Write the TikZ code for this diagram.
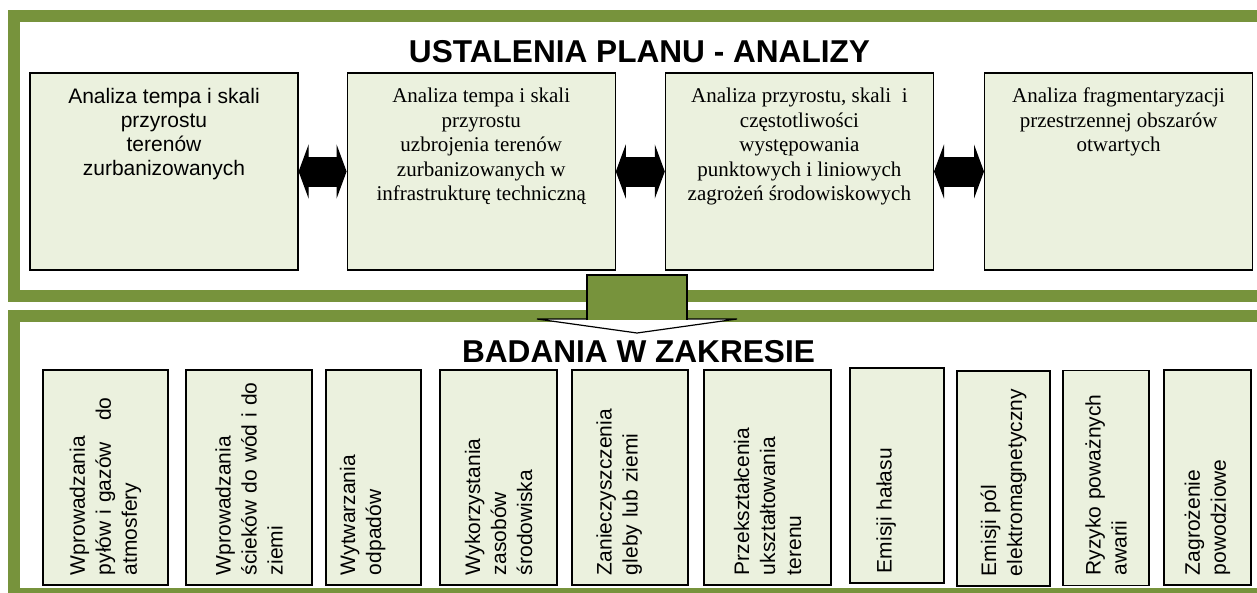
\documentclass[tikz,border=0pt]{standalone}
\usepackage{fontspec}
\setmainfont{Liberation Serif}
\setsansfont{Liberation Sans}
\usetikzlibrary{positioning, arrows.meta}

\definecolor{bandgreen}{HTML}{77933C}
\definecolor{boxgreen}{HTML}{EBF1DE}

\begin{document}
\begin{tikzpicture}[x=1pt, y=-1pt, font=\sffamily]
\tikzstyle{frame}=[%
draw=bandgreen, line width=12pt
]
\tikzstyle{heading}=[%
font=\sffamily\bfseries\fontsize{31.6}{36}\selectfont,
inner sep=0pt
]
\tikzstyle{topbox}=[%
minimum height=197pt,
minimum width=268pt,
inner xsep=6pt, inner ysep=15pt,
draw, line width=1.2pt, fill=boxgreen,
execute at begin node={\begin{minipage}[c][167pt][t]{256pt}\centering},
execute at end node={\end{minipage}}
]
\tikzstyle{lowbox}=[%
rotate=90,
minimum width=215pt,
inner xsep=10pt, inner ysep=4pt,
text width=195pt, align=left,
draw, line width=1.2pt, fill=boxgreen,
font=\sffamily\fontsize{21}{26}\selectfont
]
\tikzstyle{biarrow}=[%
line width=30pt,
{Triangle[length=10pt, width=54pt, line width=1.2pt]}-{Triangle[length=10pt, width=54pt, line width=1.2pt]}
]
\useasboundingbox (0,0) rectangle (1257,592);
\clip (0,0) rectangle (1257,592);

% the two frames
\draw[frame] (14,16) rectangle (1263,296);
\draw[frame] (14,316) rectangle (1263,594);

\node[heading, anchor=base] (plan) at (639.5,62) {USTALENIA PLANU - ANALIZY};
\node[heading, anchor=base] (badania) at (638.5,362) {BADANIA W ZAKRESIE};

% analyses
\node[topbox, font=\sffamily\fontsize{21}{24}\selectfont] (t1) at (164,171.5) {Analiza tempa i skali\\ przyrostu\\ terenów\\ zurbanizowanych};
\node[topbox, font=\rmfamily\fontsize{21}{24.5}\selectfont, right=48pt of t1] (t2) {Analiza tempa i skali\\ przyrostu\\ uzbrojenia terenów\\ zurbanizowanych w\\ infrastrukturę techniczną};
\node[topbox, font=\rmfamily\fontsize{21}{24.5}\selectfont, right=49pt of t2] (t3) {Analiza przyrostu, skali~ i\\ częstotliwości\\ występowania\\ punktowych i liniowych\\ zagrożeń środowiskowych};
\node[topbox, font=\rmfamily\fontsize{21}{24.5}\selectfont, right=50pt of t3] (t4) {Analiza fragmentaryzacji\\ przestrzennej obszarów\\ otwartych};

\draw[biarrow] (t1) -- (t2);
\draw[biarrow] (t2) -- (t3);
\draw[biarrow] (t3) -- (t4);

% big arrow down
\filldraw[fill=white, draw=black, line width=1.2pt] (537,319) -- (637,333) -- (737,319) -- cycle;
\filldraw[fill=bandgreen, draw=black, line width=1.2pt] (587,320) -- (587,275) -- (687,275) -- (687,320);

% studies
\node[lowbox, minimum height=125pt] (b1) at (105.5,477.5) {Wprowadzania\\ pyłów i gazów~~ do\\ atmosfery};
\node[lowbox, minimum height=126pt] (b2) at (249,477.5) {Wprowadzania\\ ścieków do wód i do\\ ziemi};
\node[lowbox, minimum height=95pt] (b3) at (373.5,477.5) {Wytwarzania\\ odpadów\\ \mbox{}};
\node[lowbox, minimum height=117pt] (b4) at (498.5,477.5) {Wykorzystania\\ zasobów\\ środowiska};
\node[lowbox, minimum height=116pt] (b5) at (630,477.5) {Zanieczyszczenia\\ gleby lub ziemi\\ \mbox{}};
\node[lowbox, minimum height=127pt] (b6) at (767.5,477.5) {Przekształcenia\\ ukształtowania\\ terenu};
\node[lowbox, minimum height=94pt] (b7) at (897,475.5) {Emisji hałasu\\ \mbox{}};
\node[lowbox, minimum height=93pt] (b8) at (1003.5,478.5) {Emisji pól\\ elektromagnetyczny};
\node[lowbox, minimum height=86pt] (b9) at (1106,478) {Ryzyko poważnych\\ awarii};
\node[lowbox, minimum height=87pt] (b10) at (1207.5,477.5) {Zagrożenie\\ powodziowe};
\end{tikzpicture}
\end{document}
